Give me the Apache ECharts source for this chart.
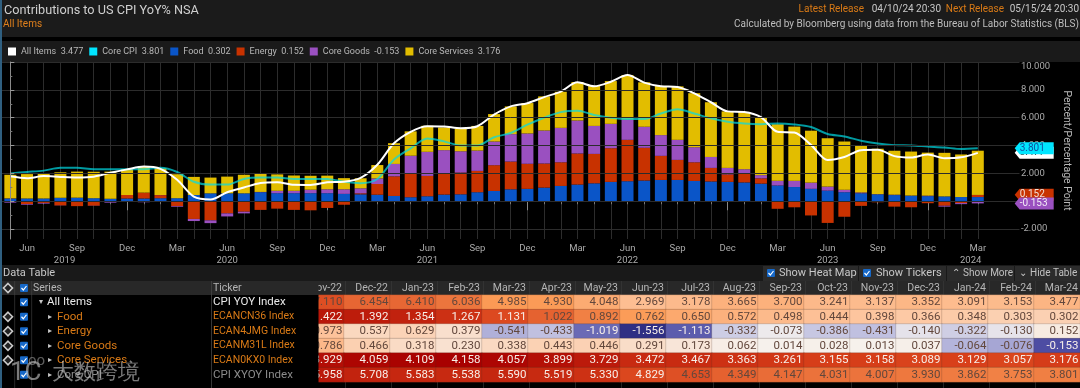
<!DOCTYPE html>
<html>
<head>
<meta charset="utf-8">
<style>
html,body{margin:0;padding:0;background:#000;}
#chart{width:1080px;height:388px;}
</style>
<script src="https://cdn.jsdelivr.net/npm/echarts@6/dist/echarts.min.js"></script>
</head>
<body>
<div id="chart"></div>
<script>
// monthly, May-19 .. Mar-24
const months = ['May-19','Jun-19','Jul-19','Aug-19','Sep-19','Oct-19','Nov-19','Dec-19',
  'Jan-20','Feb-20','Mar-20','Apr-20','May-20','Jun-20','Jul-20','Aug-20','Sep-20','Oct-20','Nov-20','Dec-20',
  'Jan-21','Feb-21','Mar-21','Apr-21','May-21','Jun-21','Jul-21','Aug-21','Sep-21','Oct-21','Nov-21','Dec-21',
  'Jan-22','Feb-22','Mar-22','Apr-22','May-22','Jun-22','Jul-22','Aug-22','Sep-22','Oct-22','Nov-22','Dec-22',
  'Jan-23','Feb-23','Mar-23','Apr-23','May-23','Jun-23','Jul-23','Aug-23','Sep-23','Oct-23','Nov-23','Dec-23',
  'Jan-24','Feb-24','Mar-24']
const allItems = [1.79,1.65,1.81,1.75,1.71,1.76,2.05,2.29,2.49,2.33,1.54,0.33,0.12,0.65,0.99,1.31,1.37,1.18,1.17,1.36,
  1.40,1.68,2.62,4.16,4.99,5.39,5.37,5.25,5.39,6.22,6.81,7.04,7.48,7.87,8.54,8.26,8.58,9.06,8.52,8.26,8.20,7.75,
  7.110,6.454,6.410,6.036,4.985,4.930,4.048,2.969,3.178,3.665,3.700,3.241,3.137,3.352,3.091,3.153,3.477]
const coreCpi = [2.0,2.1,2.2,2.4,2.4,2.3,2.3,2.3,2.3,2.4,2.1,1.4,1.2,1.2,1.6,1.7,1.7,1.6,1.6,1.6,
  1.4,1.3,1.6,3.0,3.8,4.5,4.3,4.0,4.0,4.6,4.9,5.5,6.0,6.4,6.5,6.2,6.0,5.9,5.9,6.3,6.6,6.3,
  5.958,5.708,5.583,5.538,5.590,5.519,5.330,4.829,4.653,4.349,4.147,4.031,4.007,3.930,3.862,3.753,3.801]
const food = [0.2,0.2,0.2,0.25,0.25,0.22,0.18,0.2,0.2,0.22,0.22,0.45,0.57,0.57,0.57,0.65,0.58,0.58,0.58,0.58,
  0.53,0.5,0.47,0.38,0.29,0.36,0.48,0.5,0.65,0.74,0.86,0.89,0.98,1.1,1.2,1.29,1.39,1.44,1.49,1.53,1.53,1.46,
  1.422,1.392,1.354,1.267,1.131,1.022,0.892,0.762,0.650,0.572,0.498,0.444,0.398,0.366,0.348,0.303,0.302]
const energy = [0.01,-0.2,-0.12,-0.3,-0.35,-0.32,-0.05,0.25,0.42,0.22,-0.35,-1.27,-1.37,-0.87,-0.75,-0.62,-0.53,-0.62,-0.65,-0.48,
  -0.25,0.07,0.77,1.41,1.68,1.46,1.49,1.56,1.53,1.85,1.99,1.8,1.73,1.7,2.23,2.11,2.42,2.97,2.35,1.73,1.44,1.34,
  0.973,0.537,0.629,0.379,-0.541,-0.433,-1.019,-1.556,-1.113,-0.332,-0.073,-0.386,-0.431,-0.140,-0.322,-0.130,0.152]
const coreGoods = [-0.1,-0.05,-0.05,-0.01,0.01,-0.01,-0.05,-0.01,-0.07,0.01,-0.05,-0.15,-0.2,-0.22,-0.12,0.02,0.17,0.17,0.25,0.28,
  0.33,0.36,0.4,0.89,1.3,1.73,1.7,1.53,1.46,1.7,1.97,2.18,2.37,2.47,2.37,2.01,1.75,1.46,1.51,1.49,1.44,1.08,
  0.786,0.466,0.318,0.230,0.338,0.443,0.446,0.291,0.173,0.062,0.014,0.028,0.013,0.037,-0.064,-0.076,-0.153]
const coreServices = [1.69,1.75,1.78,1.83,1.87,1.9,1.95,1.85,1.9,1.91,1.72,1.3,1.13,1.2,1.33,1.33,1.18,1.1,1.0,0.98,
  0.8,0.72,0.96,1.49,1.75,1.87,1.63,1.63,1.77,1.97,1.99,2.18,2.45,2.59,2.76,2.88,3.07,3.19,3.19,3.53,3.84,3.88,
  3.929,4.059,4.109,4.158,4.057,3.899,3.729,3.472,3.467,3.363,3.261,3.155,3.158,3.089,3.129,3.057,3.176]

const tableMonths = months.slice(-17)
const tableNames = ['All Items', 'Food', 'Energy', 'Core Goods', 'Core Services', 'Core CPI']
const tableTickers = ['CPI YOY Index', 'ECANCN36 Index', 'ECAN4JMG Index', 'ECANM31L Index', 'ECAN0KX0 Index', 'CPI XYOY Index']
const tableSeries = [allItems, food, energy, coreGoods, coreServices, coreCpi]
// heat map scale is per row, over the whole history
const heatHigh = [10, 1.56, 3.6, 2.4, 4.158, 6.6]
const heatLow = [1, 1, 1.6, 0.2, 1, 1]
const years = ['2019', '2020', '2021', '2022', '2023', '2024']

const lastIdx = months.length - 1
// the band axis holds 61 months, the right axis sits at 60.15 and the rest is covered
const xMin = -0.5
const xMax = 60.5
const xEnd = 60.15
const bandCats = months.concat(['', ''])
const xy = arr => arr.map((v, i) => [i, v])
const monthIdx = months.map((m, i) => i)
const quarterIdx = monthIdx.filter(i => (i + 2) % 3 === 0)
const decIdx = monthIdx.filter(i => months[i].startsWith('Dec'))
const yearEdges = [xMin].concat(decIdx, [xEnd])
const yearPos = years.map((y, i) => (yearEdges[i] + yearEdges[i + 1]) / 2)

const FONT = 'Roboto, "Liberation Sans", sans-serif'

// ---- page chrome, plain graphic elements
const txt = (x, y, text, fill, size, align, z) => ({
  type: 'text', x, y, z: z || 12, silent: true,
  style: {text, fill, font: size + 'px ' + FONT, textAlign: align || 'left', textVerticalAlign: 'middle'}
})
const box = (x, y, w, h, fill, z) => ({
  type: 'rect', z: z === undefined ? -1 : z, silent: true, shape: {x, y, width: w, height: h}, style: {fill}
})
const check = (x, y) => ({
  type: 'group', z: 12, silent: true, children: [
    {type: 'rect', z: 12, shape: {x, y: y - 4, width: 8, height: 8, r: 1}, style: {fill: '#1668c8'}},
    {type: 'polyline', z: 13, shape: {points: [[x + 1.5, y], [x + 3.3, y + 2], [x + 6.5, y - 2]]}, style: {stroke: '#fff', lineWidth: 1.2, fill: 'none'}}
  ]
})
const crosshair = (x, y) => ({
  type: 'polygon', z: 12, silent: true,
  shape: {points: [[x, y - 4.5], [x + 4.5, y], [x, y + 4.5], [x - 4.5, y]]},
  style: {fill: '#222', stroke: '#ccc', lineWidth: 1.6}
})

const colW = 46
const tableRight = 1081
const rowTop = 295
const rowH = 14.5
const rowY = i => rowTop + rowH * i + rowH / 2
const nameCol = ['#e8e8e8', '#d97a16', '#d97a16', '#d97a16', '#d97a16', '#8c8c8c']

const chrome = [
  box(0, 0, 1080, 37, '#1b1b1b'),
  box(0, 41, 1080, 21, '#1a1a1a'),
  box(0, 265, 1080, 16, '#191919'),
  box(0, 281, 1080, 14, '#282828'),
  box(0, 0, 2, 388, '#2f5f80', 20),
  // hides the grid past the price axis
  box(1023.5, 62, 8, 180, '#000', 9),
  txt(4, 10.5, 'Contributions to US CPI YoY% NSA', '#cfcfcf', 12.7),
  txt(3, 24, 'All Items', '#e0801c', 10),
  txt(864, 9.5, 'Latest Release', '#d97a16', 10, 'right'),
  txt(941, 9.5, '04/10/24 20:30', '#c8c8c8', 10, 'right'),
  txt(1004, 9.5, 'Next Release', '#d97a16', 10, 'right'),
  txt(1079, 9.5, '05/15/24 20:30', '#c8c8c8', 10, 'right'),
  txt(1079, 24, 'Calculated by Bloomberg using data from the Bureau of Labor Statistics (BLS)', '#bdbdbd', 10, 'right'),
  txt(3, 273, 'Data Table', '#c8c8c8', 11),
  box(763, 266, 95, 15, '#2b2b2b', 0),
  box(859, 266, 87, 15, '#2b2b2b', 0),
  box(947, 266, 67, 15, '#2b2b2b', 0),
  box(1015, 266, 65, 15, '#2b2b2b', 0),
  check(767, 273),
  txt(779, 273, 'Show Heat Map', '#c8c8c8', 11),
  check(863, 273),
  txt(876, 273, 'Show Tickers', '#c8c8c8', 11),
  txt(956, 273, '⌃', '#c8c8c8', 10, 'center'),
  txt(963, 273, 'Show More', '#c0c0c0', 10),
  txt(1023, 273, '⌄', '#c8c8c8', 10, 'center'),
  txt(1030, 273, 'Hide Table', '#c0c0c0', 10),
  // left part of the table covers the clipped first month
  box(212, 281, 106.5, 14, '#282828', 10),
  box(212, 295, 106.5, 93, '#000', 10),
  {type: 'rect', z: 11, silent: true, shape: {x: 14.5, y: 281, width: 0.6, height: 107}, style: {fill: '#444'}},
  {type: 'rect', z: 11, silent: true, shape: {x: 31.5, y: 281, width: 0.6, height: 107}, style: {fill: '#444'}},
  {type: 'rect', z: 11, silent: true, shape: {x: 211, y: 281, width: 0.8, height: 107}, style: {fill: '#444'}},
  crosshair(8, 288),
  check(20, 288),
  txt(33, 288, 'Series', '#b5b5b5', 10.5),
  txt(213, 288, 'Ticker', '#b5b5b5', 10.5),
  // watermark
  txt(10, 373, '1C', 'rgba(205,205,205,0.6)', 26, 'left', 15),
  txt(28, 361, 'oo', 'rgba(205,205,205,0.45)', 15, 'left', 15),
  txt(52, 373, '大数跨境', 'rgba(205,205,205,0.6)', 22, 'left', 15)
]
tableMonths.forEach((m, i) => {
  const right = tableRight - (tableMonths.length - 1 - i) * colW
  chrome.push(txt(right - 3, 288, m, '#b5b5b5', 10.5, 'right', 5))
  if (right > 330) chrome.push({type: 'rect', z: 1, silent: true, shape: {x: right - 46, y: 281, width: 0.6, height: 107}, style: {fill: '#3c3c3c'}})
})
tableNames.forEach((name, i) => {
  const y = rowY(i)
  if (i >= 1 && i <= 4) chrome.push(crosshair(8, y))
  chrome.push(check(20, y))
  chrome.push(txt(i === 0 ? 39 : 48, y, i === 0 ? '▾' : '▸', '#c8c8c8', 8))
  chrome.push(txt(i === 0 ? 47 : 57, y, name, nameCol[i], 11.5))
  chrome.push(txt(213, y, tableTickers[i], nameCol[i], tableTickers[i].startsWith('ECAN') ? 10.5 : 11.5))
})

// ---- heat map cells
const heatColors = ['#2b2b80', '#4f4fa5', '#8a8ac8', '#c5c5e2', '#f6f2ee', '#fdc6a0', '#fb9a55', '#d8401a', '#a80000']
const heatData = []
tableSeries.forEach((arr, r) => {
  arr.slice(-17).forEach((v, c) => {
    const ratio = v >= 0 ? Math.min(v / heatHigh[r], 1) : Math.max(v / heatLow[r], -1)
    const light = ratio > 0.715 || ratio < -0.6
    heatData.push({value: [c, r, v, ratio], label: {color: light ? '#f7efe9' : '#62473c'}})
  })
})

// ---- end tags on the price axis
const tagValues = [allItems[lastIdx], coreCpi[lastIdx], energy[lastIdx], coreGoods[lastIdx]]
const tagFill = ['#ffffff', '#00e5ff', '#c83200', '#9a50c0']
const tagText = ['#222', '#1050a0', '#f0e0d8', '#f2eaf6']
const tagShift = [0, 0, -4.5, 0]
function renderTag (params, api) {
  const i = params.dataIndex
  const p = api.coord([xEnd, api.value(1)])
  const x = p[0] + 1
  const y = p[1] + tagShift[i]
  return {
    type: 'group',
    children: [
      {type: 'polygon', shape: {points: [[x, y], [x + 5, y - 6], [x + 39, y - 6], [x + 39, y + 6], [x + 5, y + 6]]}, style: {fill: tagFill[i]}},
      {type: 'text', x: x + 5, y, style: {text: tagValues[i].toFixed(3), fill: tagText[i], font: '10px ' + FONT, textVerticalAlign: 'middle'}}
    ]
  }
}

const barSeries = (name, data, color) => ({
  name, type: 'bar', stack: 'contrib', data, barWidth: 12, itemStyle: {color}, xAxisIndex: 2, yAxisIndex: 0
})
const legendValue = {
  'All Items': allItems[lastIdx], 'Core CPI': coreCpi[lastIdx], 'Food': food[lastIdx],
  'Energy': energy[lastIdx], 'Core Goods': coreGoods[lastIdx], 'Core Services': coreServices[lastIdx]
}

const option = {
  backgroundColor: '#000',
  animation: false,
  textStyle: {fontFamily: FONT},
  graphic: {elements: chrome},
  legend: {
    left: 3, top: 42, itemWidth: 8, itemHeight: 8, itemGap: 6, icon: 'rect',
    data: ['All Items', 'Core CPI', 'Food', 'Energy', 'Core Goods', 'Core Services'],
    textStyle: {color: '#b8b8b8', fontSize: 9, fontFamily: FONT},
    formatter: name => name + '  ' + legendValue[name].toFixed(3)
  },
  grid: [
    {left: 2, width: 1026.6, top: 62, height: 177},
    {left: 298, top: 295, width: 782, height: 87}
  ],
  xAxis: [
    {
      type: 'value', gridIndex: 0, min: xMin, max: xMax, interval: 1,
      axisLine: {show: true, lineStyle: {color: '#8a8a8a'}},
      axisTick: {show: true, length: 3, lineStyle: {color: '#777'}, customValues: monthIdx},
      axisLabel: {
        customValues: quarterIdx, color: '#aaa', fontSize: 9.5, margin: 5,
        formatter: v => months[v] ? months[v].slice(0, 3) : ''
      },
      splitLine: {show: true, lineStyle: {color: '#2c2c2c', width: 1}}
    },
    {
      type: 'value', gridIndex: 0, min: xMin, max: xMax, position: 'bottom', offset: 16,
      axisLine: {show: false},
      axisTick: {show: true, length: 9, lineStyle: {color: '#888'}, customValues: decIdx},
      axisLabel: {
        customValues: yearPos, color: '#aaa', fontSize: 9.5, margin: 1,
        formatter: v => years[yearPos.indexOf(v)]
      },
      splitLine: {show: false}
    },
    {type: 'category', gridIndex: 0, data: bandCats, show: false},
    {type: 'category', gridIndex: 1, data: tableMonths, show: false}
  ],
  yAxis: [
    {
      type: 'value', gridIndex: 0, position: 'right', offset: -5.6, z: 10, min: -2.71, max: 10, interval: 1,
      name: 'Percent/Percentage Point', nameLocation: 'middle', nameRotate: -90, nameGap: 47,
      nameTextStyle: {color: '#b8b8b8', fontSize: 10.5},
      axisLine: {show: true, lineStyle: {color: '#8a8a8a'}},
      axisTick: {show: true, length: 4, lineStyle: {color: '#999'}, customValues: [-2, 0, 2, 4, 6, 8, 10]},
      axisLabel: {
        customValues: [-2, 0, 2, 4, 6, 8, 10], color: '#aaa', fontSize: 9.5, margin: 7,
        verticalAlignMaxLabel: 'top', formatter: v => v.toFixed(3)
      },
      splitLine: {show: true, lineStyle: {color: '#2c2c2c', width: 1}}
    },
    {
      type: 'value', gridIndex: 0, position: 'right', offset: -5.6, z: 10, min: -2.71, max: 10, interval: 1,
      axisLine: {show: false},
      axisTick: {show: true, length: 2, lineStyle: {color: '#777'}, customValues: [-1, 1, 3, 5, 7, 9]},
      axisLabel: {show: false},
      splitLine: {show: false}
    },
    {type: 'category', gridIndex: 1, data: tableNames, inverse: true, show: false}
  ],
  visualMap: {
    show: false, type: 'continuous', seriesIndex: 7, dimension: 3, min: -1, max: 1,
    inRange: {color: heatColors}
  },
  series: [
    barSeries('Food', food, '#0a55c8'),
    barSeries('Energy', energy, '#c83200'),
    barSeries('Core Goods', coreGoods, '#9a50c0'),
    barSeries('Core Services', coreServices, '#e2bd00'),
    {
      name: 'Core CPI', type: 'line', data: xy(coreCpi), smooth: 0.3, showSymbol: false, z: 4,
      itemStyle: {color: '#00e5ff'}, lineStyle: {color: 'rgba(0,220,230,0.7)', width: 2}
    },
    {
      name: 'All Items', type: 'line', data: xy(allItems), smooth: 0.3, showSymbol: false, z: 5,
      itemStyle: {color: '#fff'}, lineStyle: {color: '#fff', width: 2}
    },
    {
      type: 'custom', xAxisIndex: 0, yAxisIndex: 0, z: 11, renderItem: renderTag,
      data: tagValues.map(v => [xEnd, v]), clip: false, silent: true
    },
    {
      type: 'heatmap', xAxisIndex: 3, yAxisIndex: 2, data: heatData,
      itemStyle: {borderWidth: 0.5, borderColor: 'rgba(70,50,40,0.35)'},
      label: {show: true, position: 'insideRight', distance: 2, fontSize: 11.5, fontFamily: FONT, formatter: p => p.value[2].toFixed(3)}
    }
  ]
}

const myChart = echarts.init(document.getElementById('chart'), null, {renderer: 'canvas'})
myChart.setOption(option)
</script>
</body>
</html>
